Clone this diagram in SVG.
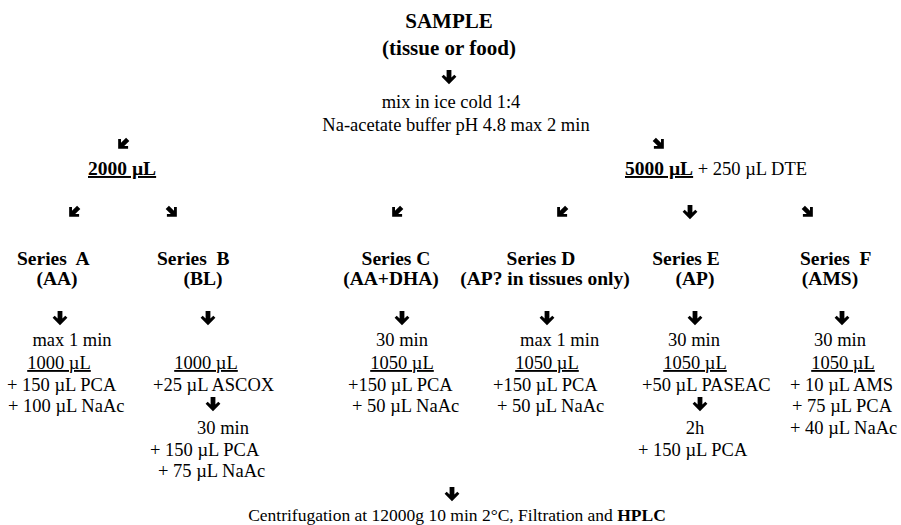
<svg xmlns="http://www.w3.org/2000/svg" xmlns:xlink="http://www.w3.org/1999/xlink" width="901" height="525" viewBox="0 0 901 525">
<style>
text{font-family:"Liberation Serif","Times New Roman",serif;font-size:18.5px;fill:#000}
.b{font-weight:bold;font-size:19.5px}
.h{font-weight:bold;font-size:21px}
.m{text-anchor:middle}
.u{text-decoration:underline}
.f{font-size:17.5px}
</style>
<defs>
<path id="arr" d="M-2.4,-7 L2.4,-7 L2.4,0.6 L5.3,-2.3 L7.4,-0.2 L0,7.2 L-7.4,-0.2 L-5.3,-2.3 L-2.4,0.6 Z" fill="#000"/>
</defs>
<rect width="901" height="525" fill="#fff"/>

<g id="connectors">
<use xlink:href="#arr" transform="translate(449,77)"/>
<use xlink:href="#arr" transform="translate(123,144) rotate(45) scale(0.95)"/>
<use xlink:href="#arr" transform="translate(659,144) rotate(-45) scale(0.95)"/>
<use xlink:href="#arr" transform="translate(74,212) rotate(45) scale(0.95)"/>
<use xlink:href="#arr" transform="translate(172,212) rotate(-45) scale(0.95)"/>
<use xlink:href="#arr" transform="translate(397,212) rotate(45) scale(0.95)"/>
<use xlink:href="#arr" transform="translate(562,212) rotate(45) scale(0.95)"/>
<use xlink:href="#arr" transform="translate(690,212)"/>
<use xlink:href="#arr" transform="translate(808,212) rotate(-45) scale(0.95)"/>
<use xlink:href="#arr" transform="translate(60,318)"/>
<use xlink:href="#arr" transform="translate(208,318)"/>
<use xlink:href="#arr" transform="translate(402,318)"/>
<use xlink:href="#arr" transform="translate(547,318)"/>
<use xlink:href="#arr" transform="translate(695,318)"/>
<use xlink:href="#arr" transform="translate(842,318)"/>
<use xlink:href="#arr" transform="translate(213,404)"/>
<use xlink:href="#arr" transform="translate(700,404)"/>
<use xlink:href="#arr" transform="translate(452,494)"/>
</g>

<g id="sample">
<text class="h m" x="449" y="28">SAMPLE</text>
<text class="h m" x="449" y="55">(tissue or food)</text>
</g>

<g id="mix">
<text class="m" x="451" y="108">mix in ice cold 1:4</text>
<text class="m" x="456" y="131">Na-acetate buffer pH 4.8 max 2 min</text>
</g>

<g id="vol2000">
<text class="b u" x="88" y="175">2000 µL</text>
</g>

<g id="vol5000">
<text x="625" y="175"><tspan class="b u">5000 µL</tspan> + 250 µL DTE</text>
</g>

<g id="seriesA">
<text class="b" x="17" y="265" xml:space="preserve">Series  A</text>
<text class="b m" x="57" y="285">(AA)</text>
<text class="m" x="72" y="346">max 1 min</text>
<text class="m u" x="59" y="369">1000 µL</text>
<text x="7" y="391">+ 150 µL PCA</text>
<text x="8" y="412">+ 100 µL NaAc</text>
</g>

<g id="seriesB">
<text class="b" x="157" y="265" xml:space="preserve">Series  B</text>
<text class="b m" x="203" y="285">(BL)</text>
<text class="m u" x="206" y="369">1000 µL</text>
<text x="153" y="391">+25 µL ASCOX</text>
<text class="m" x="223" y="434">30 min</text>
<text x="150" y="456">+ 150 µL PCA</text>
<text x="158" y="477">+ 75 µL NaAc</text>
</g>

<g id="seriesC">
<text class="b m" x="396" y="265">Series C</text>
<text class="b m" x="391" y="285">(AA+DHA)</text>
<text class="m" x="402" y="346">30 min</text>
<text class="m u" x="402" y="369">1050 µL</text>
<text x="348" y="391">+150 µL PCA</text>
<text x="352" y="412">+ 50 µL NaAc</text>
</g>

<g id="seriesD">
<text class="b m" x="541" y="265">Series D</text>
<text class="b m" x="545" y="285">(AP? in tissues only)</text>
<text x="520" y="346">max 1 min</text>
<text class="m u" x="547" y="369">1050 µL</text>
<text x="493" y="391">+150 µL PCA</text>
<text x="497" y="412">+ 50 µL NaAc</text>
</g>

<g id="seriesE">
<text class="b m" x="686" y="265">Series E</text>
<text class="b m" x="695" y="285">(AP)</text>
<text class="m" x="694" y="346">30 min</text>
<text class="m u" x="695" y="369">1050 µL</text>
<text x="642" y="391">+50 µL PASEAC</text>
<text class="m" x="695" y="434">2h</text>
<text x="638" y="456">+ 150 µL PCA</text>
</g>

<g id="seriesF">
<text class="b" x="800" y="265" xml:space="preserve">Series  F</text>
<text class="b m" x="830" y="285">(AMS)</text>
<text class="m" x="840" y="346">30 min</text>
<text class="m u" x="843" y="369">1050 µL</text>
<text x="790" y="391">+ 10 µL AMS</text>
<text x="792" y="412">+ 75 µL PCA</text>
<text x="790" y="434">+ 40 µL NaAc</text>
</g>

<g id="centrifugation">
<text class="m f" x="457" y="521">Centrifugation at 12000g 10 min 2°C, Filtration and <tspan font-weight="bold">HPLC</tspan></text>
</g>
</svg>
